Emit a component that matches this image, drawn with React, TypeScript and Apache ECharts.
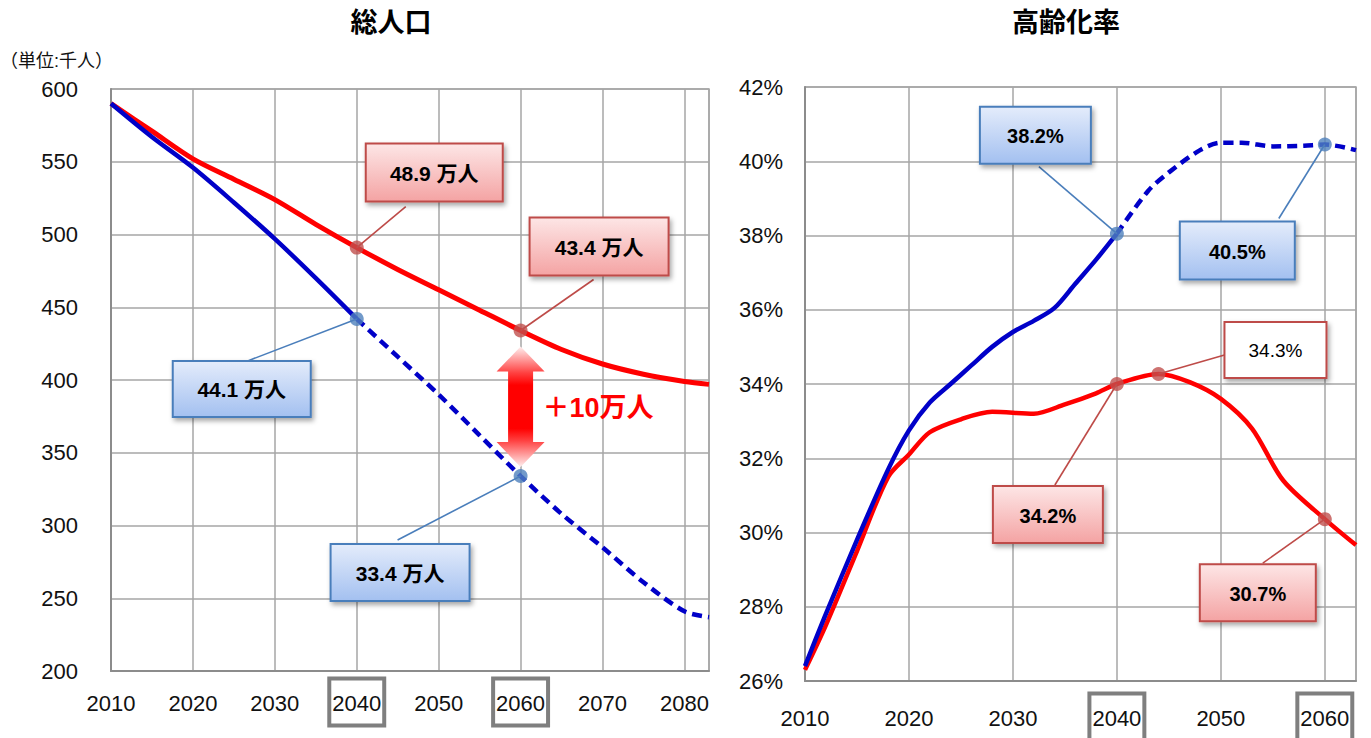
import React, { useEffect, useRef } from 'react';
import * as echarts from 'echarts';

// ---- 総人口 (千人) ----
const popYears = [2010, 2015, 2020, 2025, 2030, 2035, 2040, 2045, 2050, 2055, 2060, 2065, 2070, 2075, 2080, 2083];
const popWithPolicy = [590, 571, 552, 538, 524, 507, 491, 476, 462, 448, 434, 421, 411, 404, 399, 397];
const popTrend = [590, 567, 546, 522, 497, 470, 442, 416, 390, 362, 334, 308, 285, 261, 241, 237];
const popSplitYear = 2040;
const popTicks = [200, 600, 50];

// ---- 高齢化率 (%) ----
const ageTrendYears = [2010, 2012, 2015, 2018, 2020, 2022, 2024, 2026, 2028, 2030, 2032, 2034, 2036, 2038, 2040, 2043, 2045, 2048, 2050, 2052, 2055, 2058, 2060, 2063];
const ageTrend = [26.4, 27.8, 29.8, 31.7, 32.75, 33.5, 34.0, 34.5, 35.0, 35.4, 35.7, 36.05, 36.7, 37.35, 38.05, 39.2, 39.7, 40.3, 40.5, 40.5, 40.4, 40.42, 40.45, 40.3];
const agePolicyYears = [2010, 2012, 2015, 2018, 2020, 2022, 2025, 2028, 2032, 2035, 2038, 2040, 2044, 2047, 2050, 2053, 2056, 2060, 2063];
const agePolicy = [26.3, 27.5, 29.5, 31.5, 32.1, 32.7, 33.05, 33.25, 33.2, 33.45, 33.75, 34.0, 34.27, 34.05, 33.6, 32.8, 31.4, 30.36, 29.66];
const ageSplitYear = 2040;
const ageTicks = [26, 42, 2];

const highlightYears = [2040, 2060];

// callout texts (which point each one points at)
const callouts = [
  { grid: 0, which: 'popPolicy', year: 2040, text: '48.9 万人', tone: 'red' },
  { grid: 0, which: 'popPolicy', year: 2060, text: '43.4 万人', tone: 'red' },
  { grid: 0, which: 'popTrend', year: 2040, text: '44.1 万人', tone: 'blue' },
  { grid: 0, which: 'popTrend', year: 2060, text: '33.4 万人', tone: 'blue' },
  { grid: 1, which: 'ageTrend', year: 2040, text: '38.2%', tone: 'blue' },
  { grid: 1, which: 'ageTrend', year: 2060, text: '40.5%', tone: 'blue' },
  { grid: 1, which: 'agePolicy', year: 2044, text: '34.3%', tone: 'plain' },
  { grid: 1, which: 'agePolicy', year: 2040, text: '34.2%', tone: 'red' },
  { grid: 1, which: 'agePolicy', year: 2060, text: '30.7%', tone: 'red' },
];
// layout of callouts relative to the marker: box [dx, dy, w, h], leader start [dx, dy]
const calloutLayout = [
  { box: [9, -104, 137, 58], lead: [49, -41] },
  { box: [9, -113, 139, 58], lead: [73, -51] },
  { box: [-184, 42, 138, 56], lead: [-109, 42] },
  { box: [-190, 68, 139, 57], lead: [-123, 64] },
  { box: [-137, -127, 111, 57], lead: [-78, -67] },
  { box: [-145, 77, 115, 58], lead: [-46, 74] },
  { box: [66, -52, 102, 56], lead: [66, -19] },
  { box: [-124, 102, 110, 57], lead: [-62, 101] },
  { box: [-125, 45, 116, 57], lead: [-62, 44] },
];

const dataSets: Record<string, [number[], number[]]> = {
  popPolicy: [popYears, popWithPolicy],
  popTrend: [popYears, popTrend],
  ageTrend: [ageTrendYears, ageTrend],
  agePolicy: [agePolicyYears, agePolicy],
};

const pairs = (xs: number[], ys: number[], f: (x: number) => boolean = () => true) =>
  xs.map((x, i) => [x, ys[i]]).filter((p) => f(p[0]));

const valueAt = (key: string, year: number) => {
  const [xs, ys] = dataSets[key];
  return ys[xs.indexOf(year)];
};

const FONT = "'Liberation Sans', Arial, 'Noto Sans CJK JP', sans-serif";
const RED = '#ff0000';
const BLUE = '#0000c8';
const GRIDC = '#a6a6a6';

const xLabel = (v: number) => {
  if (v % 10 !== 0) return '';
  return highlightYears.indexOf(v) >= 0 ? `{b|${v}}` : `{n|${v}}`;
};

const richLabels = {
  b: { fontSize: 22, fontFamily: FONT, color: '#111', lineHeight: 26, padding: [14, 3, 11, 3], borderColor: '#7f7f7f', borderWidth: 4 },
  n: { fontSize: 22, fontFamily: FONT, color: '#111', lineHeight: 26, padding: [14, 3, 11, 3], borderColor: 'rgba(0,0,0,0)', borderWidth: 4 },
};

function makeXAxis(gridIndex: number, max: number, margin: number) {
  return {
    type: 'value', gridIndex, min: 2010, max, interval: 10,
    axisLine: { show: true, lineStyle: { color: '#8c8c8c', width: 2 } },
    axisTick: { show: false },
    splitLine: { show: true, lineStyle: { color: GRIDC, width: 1.5 } },
    axisLabel: { formatter: xLabel, margin, rich: richLabels, fontSize: 22, fontFamily: FONT, color: '#111' },
  };
}

function makeYAxis(gridIndex: number, ticks: number[], margin: number, fmt: string) {
  return {
    type: 'value', gridIndex, min: ticks[0], max: ticks[1], interval: ticks[2],
    axisLine: { show: true, lineStyle: { color: '#8c8c8c', width: 2 } },
    axisTick: { show: false },
    splitLine: { show: true, lineStyle: { color: GRIDC, width: 1.5 } },
    axisLabel: { formatter: fmt, margin, fontSize: 22, fontFamily: FONT, color: '#111' },
  };
}

function lineSeries(gi: number, data: number[][], color: string, width: number, dashed: boolean) {
  return {
    type: 'line', xAxisIndex: gi, yAxisIndex: gi, data, smooth: 0.3,
    symbol: 'none', z: 3,
    lineStyle: { color, width, type: dashed ? [10, 6] : 'solid', cap: 'butt' },
  };
}

export default function App() {
  const ref = useRef<HTMLDivElement>(null);
  useEffect(() => {
    if (!ref.current) return;
    const chart = echarts.init(ref.current, null, { renderer: 'svg' });

    const markerSeries = [0, 1].map((gi) => ({
      type: 'scatter', xAxisIndex: gi, yAxisIndex: gi, z: 12, symbolSize: 14,
      data: callouts.filter((c) => c.grid === gi).map((c) => ({
        value: [c.year, valueAt(c.which, c.year)],
        itemStyle: { color: c.tone === 'blue' ? '#4f81bd' : '#c0504d' },
      })),
    }));

    chart.setOption({
      animation: false,
      grid: [
        { left: 111, top: 89, width: 598, height: 582, show: true, borderColor: GRIDC, borderWidth: 1.5, backgroundColor: 'transparent', containLabel: false, outerBoundsMode: 'none' },
        { left: 805, top: 87, width: 551, height: 594, show: true, borderColor: GRIDC, borderWidth: 1.5, backgroundColor: 'transparent', containLabel: false, outerBoundsMode: 'none' },
      ],
      xAxis: [makeXAxis(0, 2083, 18), makeXAxis(1, 2063, 23)],
      yAxis: [makeYAxis(0, popTicks, 33, '{value}'), makeYAxis(1, ageTicks, 22, '{value}%')],
      series: [
        lineSeries(0, pairs(popYears, popWithPolicy), RED, 5, false),
        lineSeries(0, pairs(popYears, popTrend, (x) => x <= popSplitYear), BLUE, 4.5, false),
        lineSeries(0, pairs(popYears, popTrend, (x) => x >= popSplitYear), BLUE, 4.5, true),
        lineSeries(1, pairs(agePolicyYears, agePolicy), RED, 4.5, false),
        lineSeries(1, pairs(ageTrendYears, ageTrend, (x) => x <= ageSplitYear), BLUE, 4.5, false),
        lineSeries(1, pairs(ageTrendYears, ageTrend, (x) => x >= ageSplitYear), BLUE, 4.5, true),
        ...markerSeries,
      ],
    });

    const els: any[] = [];
    els.push({ type: 'text', x: 391, y: 23, z: 20, style: { text: '総人口', fontSize: 27, fontWeight: 'bold', fontFamily: FONT, fill: '#000', textAlign: 'center', align: 'center', textVerticalAlign: 'middle', verticalAlign: 'middle' } });
    els.push({ type: 'text', x: 1066, y: 23, z: 20, style: { text: '高齢化率', fontSize: 27, fontWeight: 'bold', fontFamily: FONT, fill: '#000', textAlign: 'center', align: 'center', textVerticalAlign: 'middle', verticalAlign: 'middle' } });
    els.push({ type: 'text', x: 0, y: 61, z: 20, style: { text: '（単位:千人）', fontSize: 18, fontFamily: FONT, fill: '#111', textAlign: 'left', align: 'left', textVerticalAlign: 'middle', verticalAlign: 'middle' } });

    callouts.forEach((c, i) => {
      const [px, py] = chart.convertToPixel({ gridIndex: c.grid } as any, [c.year, valueAt(c.which, c.year)]) as number[];
      const L = calloutLayout[i];
      const [bx, by, bw, bh] = [px + L.box[0], py + L.box[1], L.box[2], L.box[3]];
      const stroke = c.tone === 'blue' ? '#4a7ebb' : '#be4b48';
      const fill = c.tone === 'plain'
        ? '#ffffff'
        : new echarts.graphic.LinearGradient(0, 0, 0, 1, c.tone === 'blue'
          ? [{ offset: 0, color: '#e4ecfb' }, { offset: 1, color: '#a3c0f0' }]
          : [{ offset: 0, color: '#fde6e6' }, { offset: 1, color: '#f4a3a3' }]);
      const isMan = c.text.indexOf('万') >= 0;
      els.push({ type: 'line', z: 9, shape: { x1: px + L.lead[0], y1: py + L.lead[1], x2: px, y2: py }, style: { stroke, lineWidth: 1.6 } });
      els.push({ type: 'rect', z: 10, shape: { x: bx, y: by, width: bw, height: bh }, style: { fill, stroke, lineWidth: 2, shadowBlur: 5, shadowOffsetX: 2, shadowOffsetY: 3, shadowColor: 'rgba(0,0,0,0.35)' } });
      els.push({ type: 'text', z: 11, x: bx + bw / 2, y: by + bh / 2 + 1, style: { text: c.text, fontSize: c.tone === 'plain' ? 19 : (isMan ? 21 : 20), fontWeight: c.tone === 'plain' ? 'normal' : 'bold', fontFamily: FONT, fill: '#000', textAlign: 'center', align: 'center', textVerticalAlign: 'middle', verticalAlign: 'middle' } });
    });

    // +10万人 double arrow between the two 2060 points
    const [ax, ayTop] = chart.convertToPixel({ gridIndex: 0 } as any, [2060, valueAt('popPolicy', 2060)]) as number[];
    const [, ayBot] = chart.convertToPixel({ gridIndex: 0 } as any, [2060, valueAt('popTrend', 2060)]) as number[];
    const t = ayTop + 16, b = ayBot - 9, hh = 25, hw = 24, sw = 12.5;
    els.push({
      type: 'polygon', z: 8,
      shape: { points: [[ax, t], [ax + hw, t + hh], [ax + sw, t + hh], [ax + sw, b - hh], [ax + hw, b - hh], [ax, b], [ax - hw, b - hh], [ax - sw, b - hh], [ax - sw, t + hh], [ax - hw, t + hh]] },
      style: {
        fill: new echarts.graphic.LinearGradient(0, 0, 0, 1, [
          { offset: 0, color: '#fff0f0' }, { offset: 0.22, color: '#ff4040' }, { offset: 0.32, color: '#ff0000' },
          { offset: 0.68, color: '#ff0000' }, { offset: 0.78, color: '#ff4040' }, { offset: 1, color: '#fff0f0' },
        ]),
      },
    });
    els.push({ type: 'text', z: 11, x: ax + 22, y: (t + b) / 2 + 1, style: { text: '＋10万人', fontSize: 27, fontWeight: 'bold', fontFamily: FONT, fill: '#ff0000', textAlign: 'left', align: 'left', textVerticalAlign: 'middle', verticalAlign: 'middle' } });

    chart.setOption({ graphic: { elements: els } });
    return () => chart.dispose();
  }, []);
  return <div ref={ref} style={{ position: 'fixed', left: 0, top: 0, width: 1371, height: 738, background: '#fff' }} />;
}
